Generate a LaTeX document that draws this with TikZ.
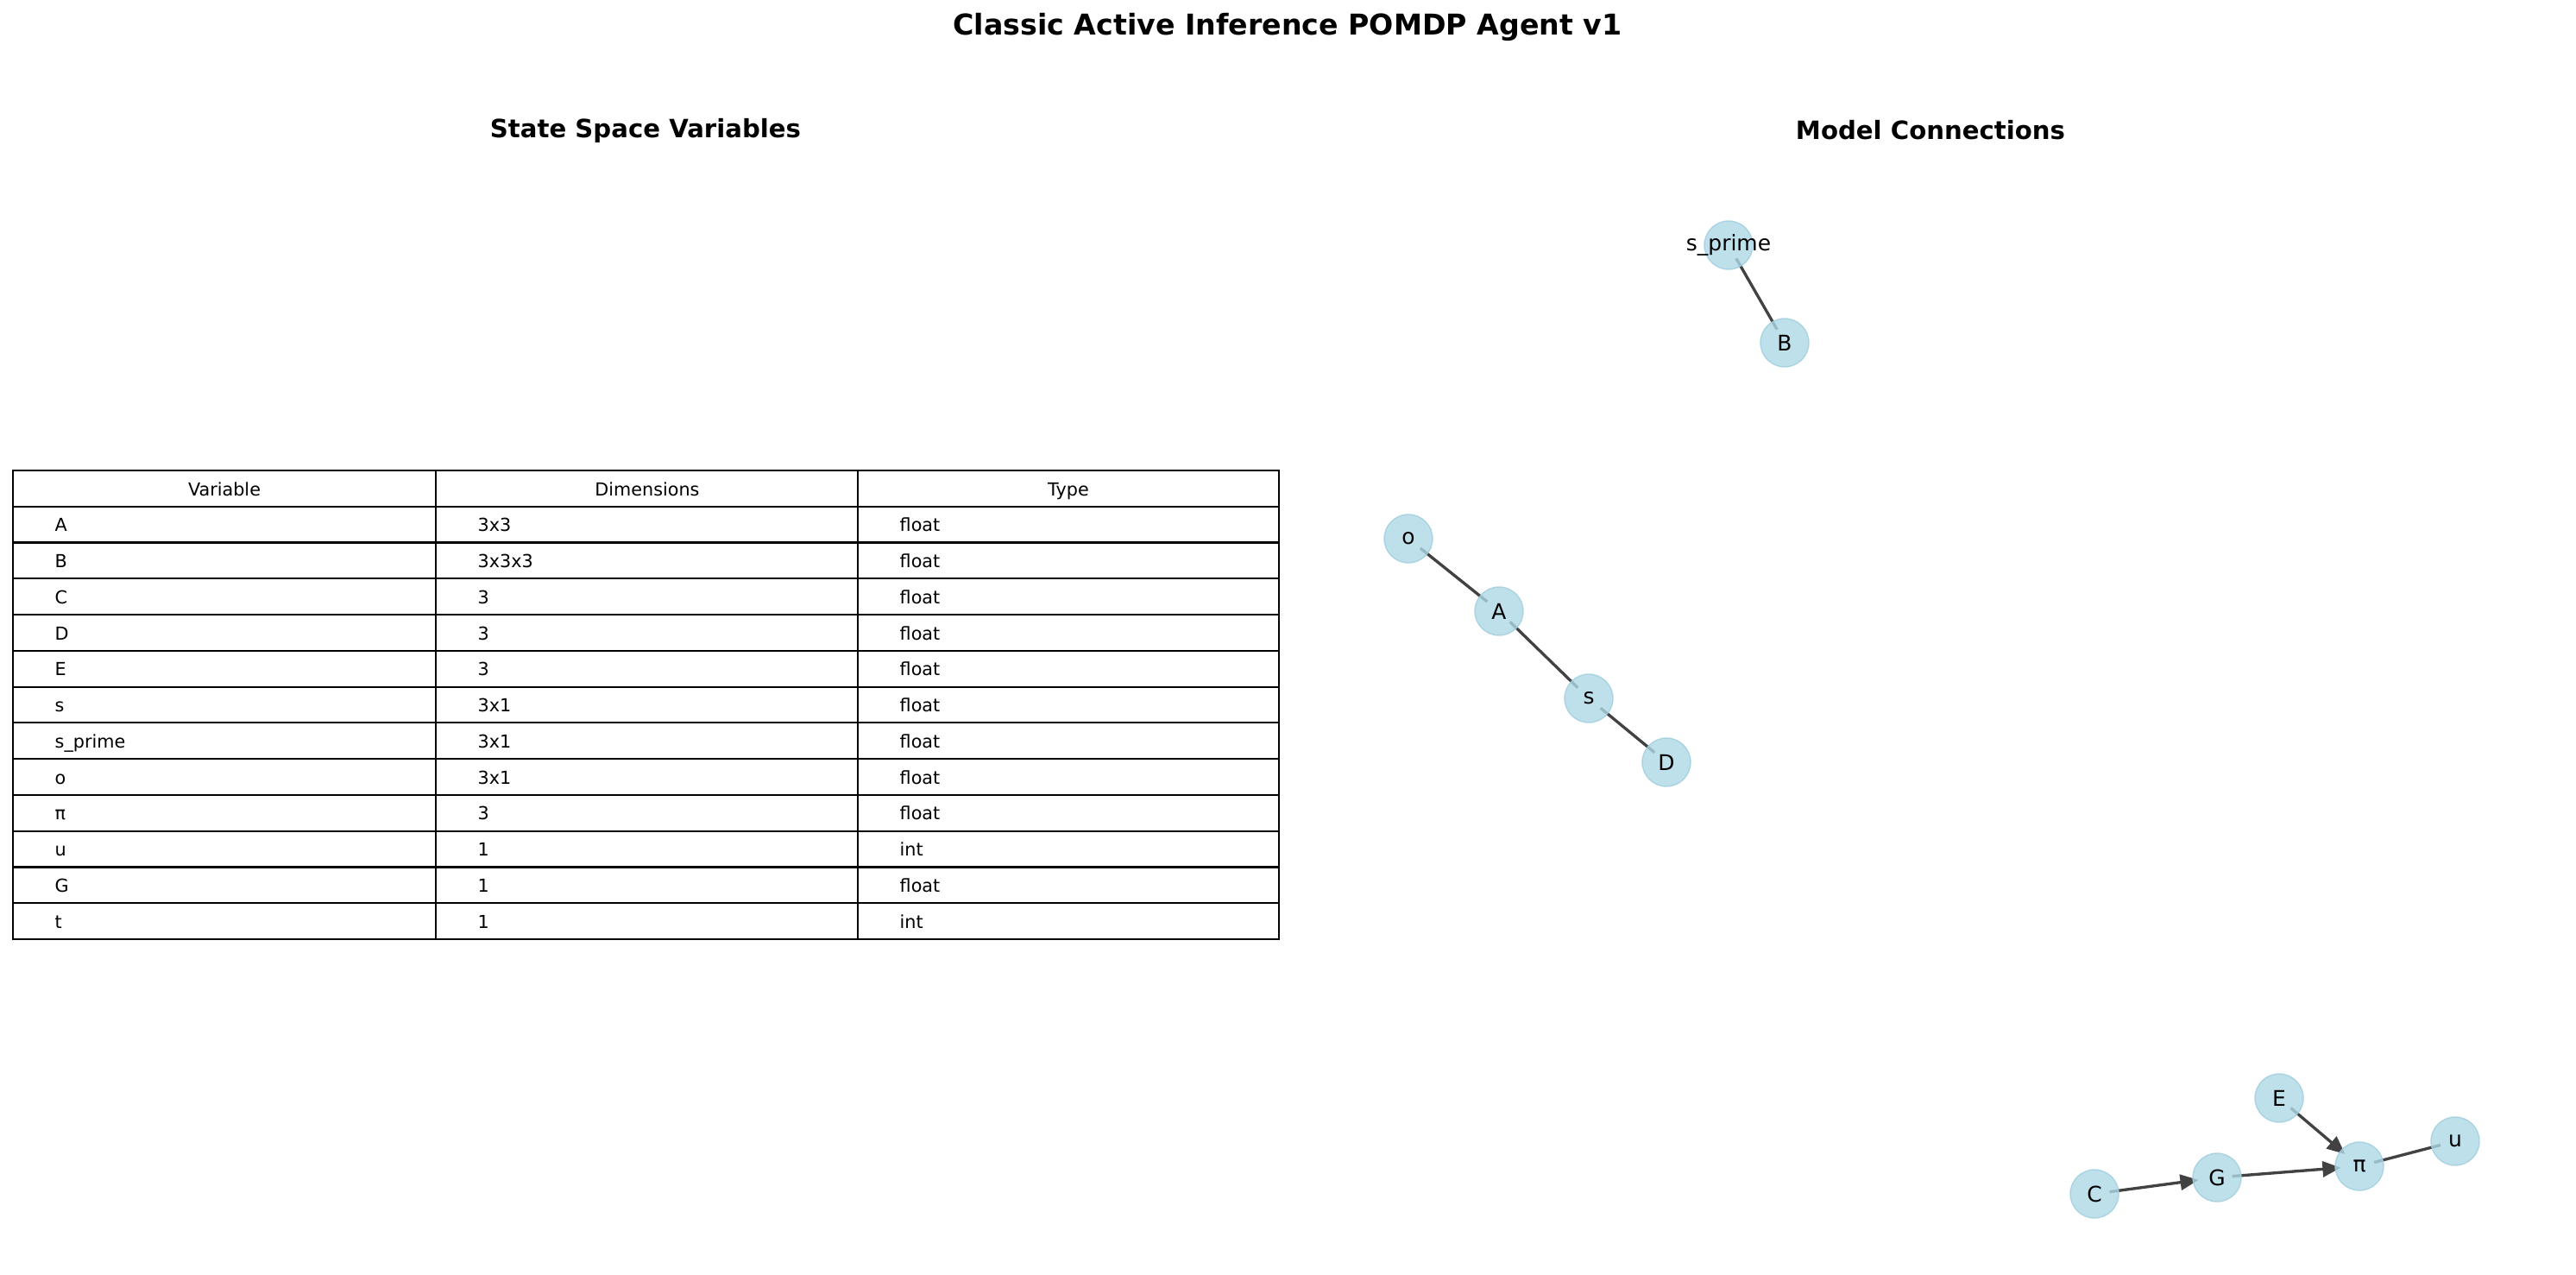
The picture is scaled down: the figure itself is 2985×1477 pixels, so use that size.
\documentclass[tikz,border=0pt]{standalone}
\usepackage{fontspec}
\setmainfont{DejaVu Sans}
\usetikzlibrary{backgrounds, arrows.meta}

\tikzset{
  var/.style={circle, fill={rgb,255:red,173;green,216;blue,230}, draw={rgb,255:red,160;green,206;blue,222},
    fill opacity=0.8, draw opacity=0.8, text opacity=1, minimum size=5.6mm, inner sep=0pt,
    font=\fontsize{7.1}{8}\selectfont},
  link/.style={draw=black!74, line width=0.95pt, shorten <=-1.1mm, shorten >=-1.1mm},
  flow/.style={link, -{Triangle[length=2.1mm, width=1.8mm]}, shorten >=-0.7mm},
  cell/.style={font=\fontsize{5.9}{7}\selectfont, inner sep=0pt},
  grid/.style={draw=black, line width=0.6pt}
}

\begin{document}
\begin{tikzpicture}[x=0.1mm, y=-0.1mm]
      \useasboundingbox (0,0) rectangle (2985,1477);
      % titles
      \node[font=\fontsize{9.45}{11}\selectfont\bfseries] (title) at (1492,31) {Classic Active Inference POMDP Agent v1};
      \node[font=\fontsize{8.3}{10}\selectfont\bfseries] (left) at (748,151) {State Space Variables};
      \node[font=\fontsize{8.3}{10}\selectfont\bfseries] (right) at (2237,151) {Model Connections};

      % table
      \draw[grid] (15,545) rectangle (1482,1088);
      \foreach \i in {1,...,12}
        \draw[grid] (15,545+41.77*\i) -- (1482,545+41.77*\i);
      \draw[grid] (505,545) -- (505,1088);
      \draw[grid] (994,545) -- (994,1088);
      \node[cell, anchor=base] (hvar) at (260,574) {Variable};
      \node[cell, anchor=base] (hdim) at (750,574) {Dimensions};
      \node[cell, anchor=base] (htype) at (1238,574) {Type};
      \foreach \v/\d/\t [count=\i] in {A/3x3/float, B/3x3x3/float, C/3/float, D/3/float, E/3/float,
          s/3x1/float, s\_prime/3x1/float, o/3x1/float, π/3/float, u/1/int, G/1/float, t/1/int} {
        \node[cell, anchor=base west] (var\i) at (63,574+41.77*\i) {\v};
        \node[cell, anchor=base west] (dim\i) at (553,574+41.77*\i) {\d};
        \node[cell, anchor=base west] (type\i) at (1042,574+41.77*\i) {\t};
      }

      % graph
      \node[var, label={[font=\fontsize{7.1}{8}\selectfont]center:s\_prime}] (sprime) at (2003,284) {};
      \node[var] (B) at (2068,397) {B};
      \node[var] (o) at (1632,624) {o};
      \node[var] (A) at (1737,708) {A};
      \node[var] (s) at (1841,809) {s};
      \node[var] (D) at (1931,883) {D};
      \node[var] (E) at (2641,1272) {E};
      \node[var] (pi) at (2734,1351) {π};
      \node[var] (u) at (2845,1322) {u};
      \node[var] (G) at (2569,1364) {G};
      \node[var] (C) at (2427,1383) {C};

      \begin{scope}[on background layer]
        \draw[link] (sprime) -- (B);
        \draw[link] (o) -- (A);
        \draw[link] (A) -- (s);
        \draw[link] (s) -- (D);
        \draw[link] (pi) -- (u);
        \draw[flow] (C) -- (G);
        \draw[flow] (G) -- (pi);
        \draw[flow] (E) -- (pi);
      \end{scope}
    \end{tikzpicture}
\end{document}
